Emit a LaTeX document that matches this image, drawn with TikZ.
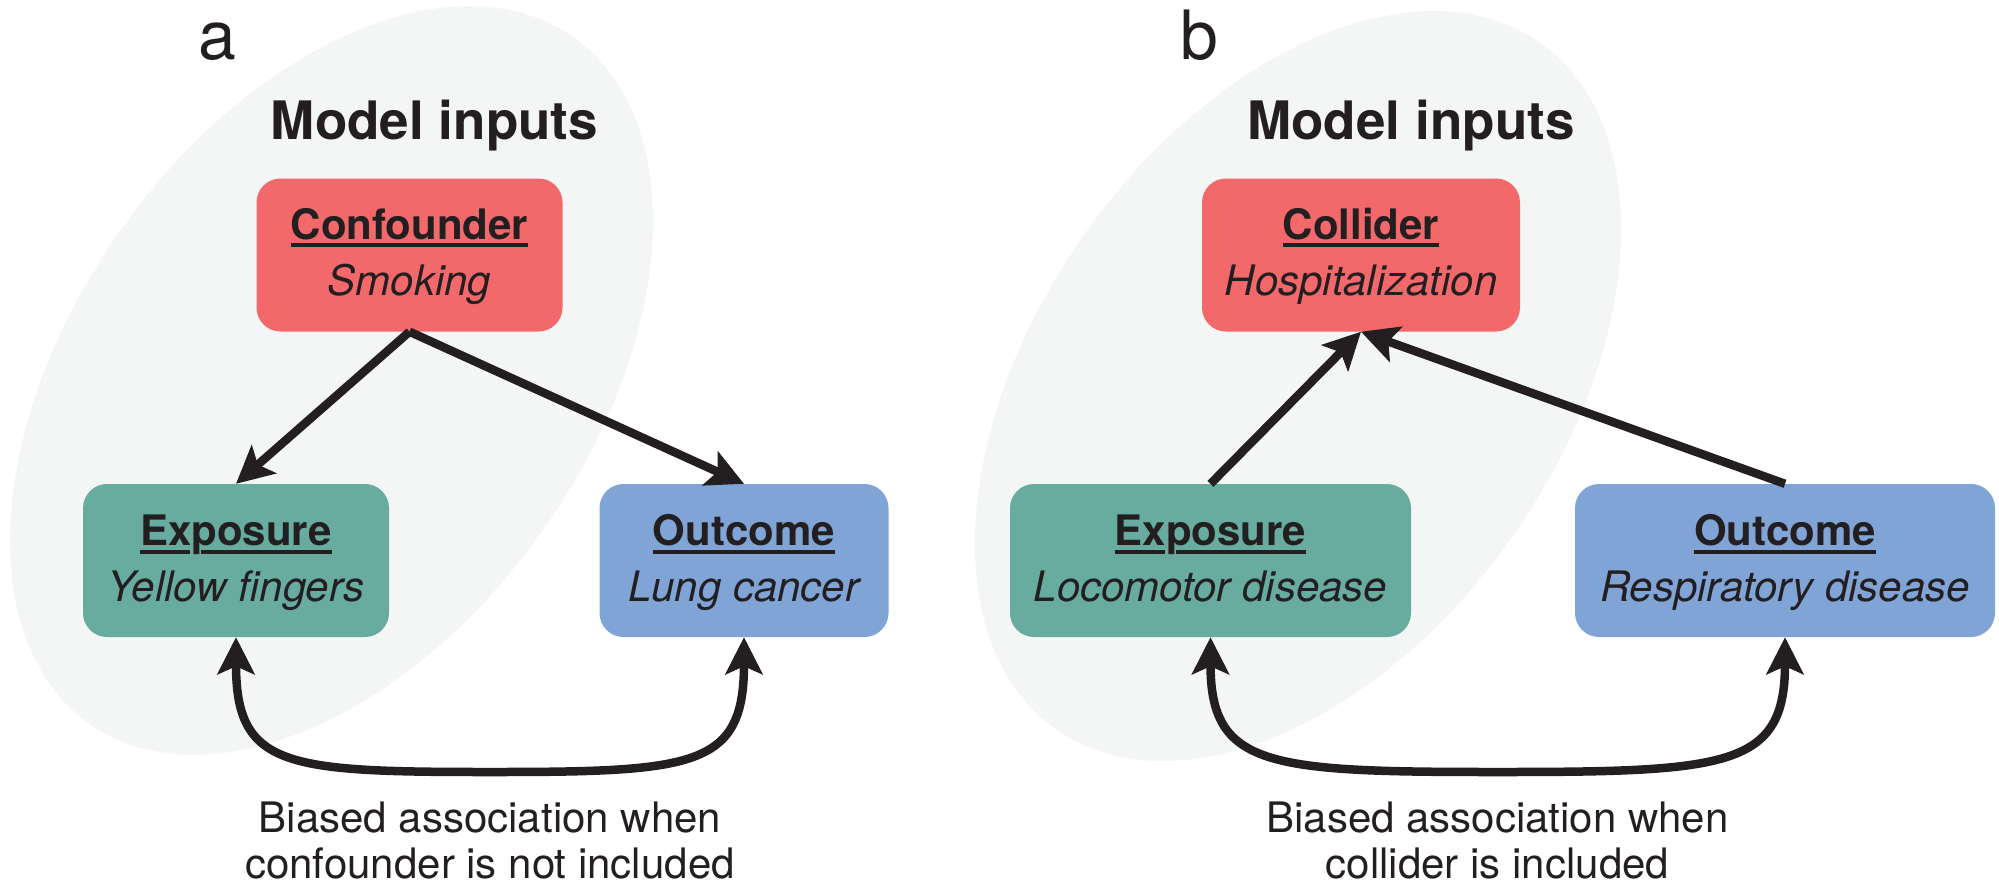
\documentclass[tikz,border=0pt]{standalone}
\usepackage{fontspec}
\setmainfont{TeX Gyre Heros}
\usetikzlibrary{arrows.meta}
\definecolor{ink}{HTML}{231F20}
\definecolor{redbox}{HTML}{F2686B}
\definecolor{greenbox}{HTML}{68AC9F}
\definecolor{bluebox}{HTML}{80A4D6}
\definecolor{bubble}{HTML}{F4F6F5}
% bold title with a flat rule under it
\newcommand\vartitle[1]{\setbox0\hbox{\bfseries #1}\rlap{\rule[-8pt]{\wd0}{4pt}}\box0}
% same, with the rule broken around a descender: #2 = offset of the break, #3 = its width
\newcommand\vartitlegap[3]{\setbox0\hbox{\bfseries #1}\rlap{\rule[-8pt]{\wd0}{4pt}}\rlap{\kern#2\textcolor{greenbox}{\rule[-9pt]{#3}{6pt}}}\box0}

\begin{document}
\begin{tikzpicture}[x=1pt,y=1pt,
  varbox/.style={rounded corners=24pt, inner sep=0pt, minimum height=153pt},
  boxtext/.style={font=\fontsize{42}{50}\selectfont, text=ink, anchor=base, inner sep=0pt},
  subtext/.style={boxtext, font=\fontsize{42}{50}\selectfont\itshape},
  heading/.style={font=\fontsize{53}{60}\selectfont\bfseries, text=ink, anchor=base, inner sep=0pt},
  panel/.style={font=\fontsize{68}{70}\selectfont, text=ink, anchor=base, inner sep=0pt},
  note/.style={font=\fontsize{42}{46}\selectfont, text=ink, anchor=base, inner sep=0pt},
  link/.style={draw=ink, line width=8.5pt, -{Stealth[length=37pt,width=37pt,inset=8pt]}},
  bilink/.style={draw=ink, line width=8.5pt, {Stealth[length=37pt,width=37pt,inset=8pt]}-{Stealth[length=37pt,width=37pt,inset=8pt]}},
]
\useasboundingbox (0,0) rectangle (1999,-887);

% soft background bubbles behind the model inputs
\fill[bubble, rotate around={54.8:(331.5,-380.5)}] (331.5,-380.5) ellipse [x radius=420pt, y radius=259pt];
\fill[bubble, rotate around={54.8:(1298,-386)}] (1298,-386) ellipse [x radius=420pt, y radius=262pt];

% ---------- panel a ----------
\node[panel] (pa) at (217,-59) {a};
\node[heading] (mia) at (434.5,-139) {Model inputs};

\node[varbox, fill=redbox, minimum width=306pt] (conf) at (409.5,-255) {};
\node[boxtext] (conft) at ([yshift=16pt]conf.center) {\vartitle{Confounder}};
\node[subtext] (confs) at ([yshift=-40pt]conf.center) {Smoking};

\node[varbox, fill=greenbox, minimum width=306pt] (expa) at (236,-560.5) {};
\node[boxtext] (expat) at ([yshift=15pt]expa.center) {\vartitlegap{Exposure}{50pt}{11pt}};
\node[subtext] (expas) at ([yshift=-41pt]expa.center) {Yellow fingers};

\node[varbox, fill=bluebox, minimum width=289pt] (outa) at (744,-560.5) {};
\node[boxtext] (outat) at ([yshift=15pt]outa.center) {\vartitle{Outcome}};
\node[subtext] (outas) at ([yshift=-41pt]outa.center) {Lung cancer};

\draw[link] (conf.south) -- (expa.north);
\draw[link] (conf.south) -- (outa.north);
\coordinate (bota) at (490,-772);
\draw[bilink] (expa.south) .. controls ([yshift=-130pt]expa.south) and ([xshift=-205pt]bota) .. (bota)
  .. controls ([xshift=205pt]bota) and ([yshift=-130pt]outa.south) .. (outa.south);

\node[note] (nota1) at (490,-832) {Biased association when};
\node[note] (nota2) at (490,-878) {confounder is not included};

% ---------- panel b ----------
\node[panel] (pb) at (1199,-59) {b};
\node[heading] (mib) at (1411,-139) {Model inputs};

\node[varbox, fill=redbox, minimum width=318pt] (coll) at (1361,-255) {};
\node[boxtext] (collt) at ([yshift=16pt]coll.center) {\vartitle{Collider}};
\node[subtext] (colls) at ([yshift=-40pt]coll.center) {Hospitalization};

\node[varbox, fill=greenbox, minimum width=401pt] (expb) at (1210.5,-560.5) {};
\node[boxtext] (expbt) at ([yshift=15pt]expb.center) {\vartitlegap{Exposure}{50pt}{11pt}};
\node[subtext] (expbs) at ([yshift=-41pt]expb.center) {Locomotor disease};

\node[varbox, fill=bluebox, minimum width=420pt] (outb) at (1785,-560.5) {};
\node[boxtext] (outbt) at ([yshift=15pt]outb.center) {\vartitle{Outcome}};
\node[subtext] (outbs) at ([yshift=-41pt]outb.center) {Respiratory disease};

\draw[link] (expb.north) -- (coll.south);
\draw[link] (outb.north) -- (coll.south);
\coordinate (botb) at (1497.75,-772);
\draw[bilink] (expb.south) .. controls ([yshift=-130pt]expb.south) and ([xshift=-230pt]botb) .. (botb)
  .. controls ([xshift=230pt]botb) and ([yshift=-130pt]outb.south) .. (outb.south);

\node[note] (notb1) at (1497.5,-832) {Biased association when};
\node[note] (notb2) at (1497.5,-878) {collider is included};
\end{tikzpicture}
\end{document}
